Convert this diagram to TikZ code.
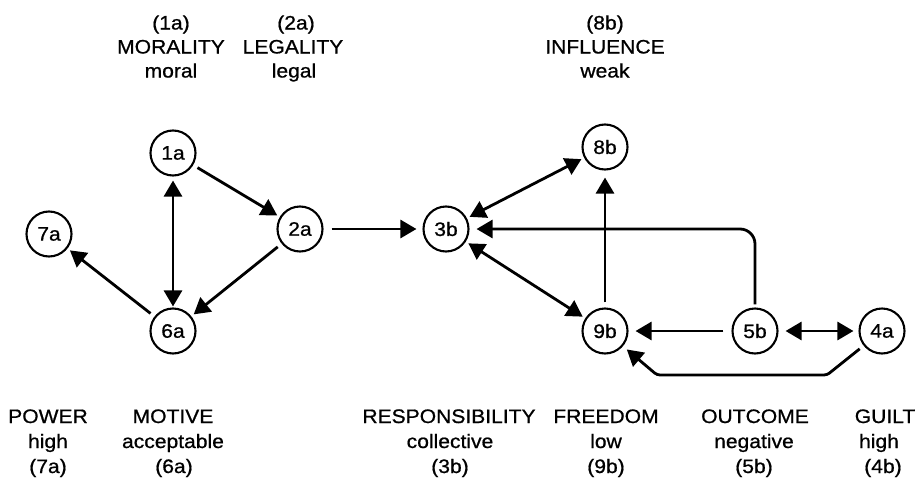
\documentclass[tikz,border=0pt]{standalone}
\usepackage{fontspec}
\setmainfont{Liberation Sans}[FakeStretch=1.08,FakeBold=0.8]
\usetikzlibrary{arrows.meta}
\begin{document}
\begin{tikzpicture}[x=1pt,y=-1pt,
  every node/.style={font=\fontsize{19.5}{24}\selectfont},
  var/.style={circle,draw,line width=2.1pt,minimum size=45pt,inner sep=0pt},
  lbl/.style={anchor=base,inner sep=0pt},
  link/.style={line width=2.8pt,-{Triangle[length=16pt,width=18pt]},shorten <=5pt,shorten >=3pt},
  both/.style={line width=2.8pt,{Triangle[length=16pt,width=18pt]}-{Triangle[length=16pt,width=18pt]},shorten <=3pt,shorten >=3pt}]
\useasboundingbox (0,0) rectangle (918,479);

% variables
\node[var] (1a) at (173,153) {1a};
\node[var] (2a) at (300,229) {2a};
\node[var] (7a) at (49,234) {7a};
\node[var] (6a) at (173,331) {6a};
\node[var] (3b) at (446,229) {3b};
\node[var] (8b) at (605,147) {8b};
\node[var] (9b) at (605,331) {9b};
\node[var] (5b) at (755,331) {5b};
\node[var] (4a) at (882,331) {4a};

% labels above
\node[lbl] (t1a-1) at (171,29.5) {(1a)};
\node[lbl] (t1a-2) at (171,53.5) {MORALITY};
\node[lbl] (t1a-3) at (171,77.5) {moral};
\node[lbl] (t2a-1) at (296,29.5) {(2a)};
\node[lbl] (t2a-2) at (293,53.5) {LEGALITY};
\node[lbl] (t2a-3) at (294,77.5) {legal};
\node[lbl] (t8b-1) at (605,29.5) {(8b)};
\node[lbl] (t8b-2) at (605,53.5) {INFLUENCE};
\node[lbl] (t8b-3) at (605,77.5) {weak};

% labels below
\node[lbl] (b7a-1) at (48,423) {POWER};
\node[lbl] (b7a-2) at (48,448) {high};
\node[lbl] (b7a-3) at (48,473) {(7a)};
\node[lbl] (b6a-1) at (173,423) {MOTIVE};
\node[lbl] (b6a-2) at (173,448) {acceptable};
\node[lbl] (b6a-3) at (174,473) {(6a)};
\node[lbl] (b3b-1) at (449,423) {RESPONSIBILITY};
\node[lbl] (b3b-2) at (450,448) {collective};
\node[lbl] (b3b-3) at (450,473) {(3b)};
\node[lbl] (b9b-1) at (606,423) {FREEDOM};
\node[lbl] (b9b-2) at (606,448) {low};
\node[lbl] (b9b-3) at (606,473) {(9b)};
\node[lbl] (b5b-1) at (755,423) {OUTCOME};
\node[lbl] (b5b-2) at (754,448) {negative};
\node[lbl] (b5b-3) at (754,473) {(5b)};
\node[lbl] (b4a-1) at (885,423) {GUILT};
\node[lbl] (b4a-2) at (879,448) {high};
\node[lbl] (b4a-3) at (883,473) {(4b)};

% connections
\draw[link] (1a) -- (2a);
\draw[both,shorten <=4pt,shorten >=1pt] (1a) -- (6a);
\draw[link] (2a) -- (6a);
\draw[link] (6a) -- (7a);
\draw[link,shorten <=8pt,shorten >=6pt] (2a) -- (3b);
\draw[both] (3b) -- (8b);
\draw[both] (3b) -- (9b);
\draw[link,rounded corners=15pt,shorten <=3pt,shorten >=7pt] (5b.north) |- (3b.east);
\draw[link,shorten >=7pt] (9b) -- (8b);
\draw[link,shorten <=8pt,shorten >=7pt] (5b) -- (9b);
\draw[both,shorten <=7pt,shorten >=5pt] (5b) -- (4a);
\coordinate (k1) at (827,375);
\coordinate (k2) at (657,375);
\draw[link,rounded corners=3pt,shorten >=5pt] (4a) -- (k1) -- (k2) -- (9b);
\end{tikzpicture}
\end{document}
